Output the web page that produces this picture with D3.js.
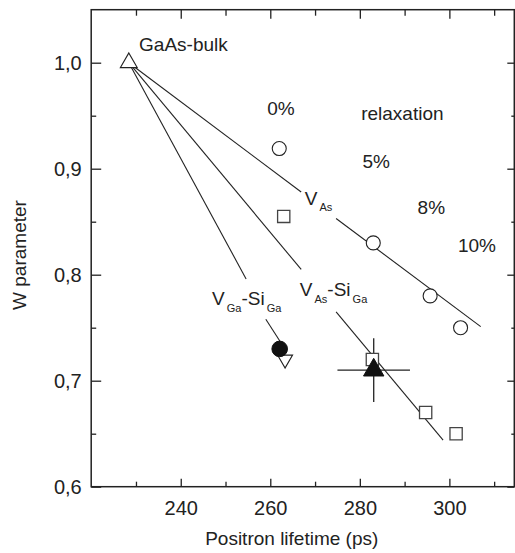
<!DOCTYPE html>
<html>
<head>
<meta charset="utf-8">
<script src="https://cdn.jsdelivr.net/npm/d3@7"></script>
<style>
  html, body { margin: 0; padding: 0; background: #fff; }
  svg { display: block; font-family: "Liberation Sans", Arial, sans-serif; }
</style>
</head>
<body>
<svg id="chart" width="515" height="553"></svg>
<script>
// ---- data ----
const xMajorTicks = [240, 260, 280, 300];
const xMinorTicks = [230, 250, 270, 290, 310];
const yMajorTicks = [0.6, 0.7, 0.8, 0.9, 1.0];
const yMinorTicks = [0.65, 0.75, 0.85, 0.95];
const yTickLabels = ["0,6", "0,7", "0,8", "0,9", "1,0"];

const bulkPoint = [[228.4, 1.0]];
const vAsCircles = [[262.0, 0.919], [283.0, 0.830], [295.7, 0.780], [302.5, 0.750]];
const vAsSiGaSquares = [[263.0, 0.855], [282.8, 0.720], [294.7, 0.670], [301.5, 0.650]];
const vGaSiGaFilledCircle = [[262.1, 0.730]];
const openInvTriangle = [[263.3, 0.720]];
const filledTriangle = [[283.1, 0.710]];
const filledTriangleErr = [[8.1, 0.03]];

// guide lines, each with a gap for its label
const lineVAs = [[[228.4, 1.0], [266.9, 0.878]], [[274.7, 0.853], [307.0, 0.751]]];
const lineVAsSiGa = [[[228.4, 1.0], [266.9, 0.805]], [[274.7, 0.765], [298.6, 0.644]]];
const lineVGaSiGa = [[[228.4, 1.0], [254.6, 0.796]], [[259.0, 0.758], [262.2, 0.737]]];

const plainLabels = [
  ["GaAs-bulk", 230.7, 1.011],
  ["0%", 259.3, 0.9507],
  ["relaxation", 280.3, 0.946],
  ["5%", 280.6, 0.9007],
  ["8%", 292.9, 0.857],
  ["10%", 301.9, 0.8212]
];
// [parts(main/sub alternating), x, y]
const subLabels = [
  [["V", "As"], 267.7, 0.8658],
  [["V", "As", "-Si", "Ga"], 266.6, 0.7799],
  [["V", "Ga", "-Si", "Ga"], 247.0, 0.7714]
];

// ---- layout ----
const svg = d3.select("#chart");
const ink = "#222";
const x = d3.scaleLinear().domain([220, 314.5]).range([91.2, 514.3]);
const y = d3.scaleLinear().domain([0.6, 1.05]).range([486.7, 9.7]);
const [x0, x1] = x.range();
const [y0, y1] = y.range();

// frame
svg.append("rect").attr("x", x0).attr("y", y1).attr("width", x1 - x0).attr("height", y0 - y1)
  .attr("fill", "none").attr("stroke", ink).attr("stroke-width", 1.5);

function styleAxis(g) {
  g.select(".domain").remove();
  g.selectAll("line").attr("stroke", ink).attr("stroke-width", 1.3);
  g.selectAll("text").attr("fill", ink).attr("font-size", 20)
    .attr("font-family", '"Liberation Sans", Arial, sans-serif');
}

// bottom
svg.append("g").attr("transform", `translate(0,${y0})`)
  .call(d3.axisBottom(x).tickValues(xMajorTicks).tickSize(-8).tickPadding(14).tickFormat(d3.format("d")))
  .call(styleAxis);
svg.append("g").attr("transform", `translate(0,${y0})`)
  .call(d3.axisBottom(x).tickValues(xMinorTicks).tickSize(-5).tickFormat(""))
  .call(styleAxis);
// top
svg.append("g").attr("transform", `translate(0,${y1})`)
  .call(d3.axisTop(x).tickValues(xMajorTicks).tickSize(-9).tickFormat(""))
  .call(styleAxis);
svg.append("g").attr("transform", `translate(0,${y1})`)
  .call(d3.axisTop(x).tickValues(xMinorTicks).tickSize(-6).tickFormat(""))
  .call(styleAxis);
// left
svg.append("g").attr("transform", `translate(${x0},0)`)
  .call(d3.axisLeft(y).tickValues(yMajorTicks).tickSize(-10).tickPadding(9.5)
    .tickFormat((d, i) => yTickLabels[i]))
  .call(styleAxis);
svg.append("g").attr("transform", `translate(${x0},0)`)
  .call(d3.axisLeft(y).tickValues(yMinorTicks).tickSize(-5).tickFormat(""))
  .call(styleAxis);
// right
svg.append("g").attr("transform", `translate(${x1},0)`)
  .call(d3.axisRight(y).tickValues(yMajorTicks).tickSize(-7).tickFormat(""))
  .call(styleAxis);
svg.append("g").attr("transform", `translate(${x1},0)`)
  .call(d3.axisRight(y).tickValues(yMinorTicks).tickSize(-3).tickFormat(""))
  .call(styleAxis);

// axis titles
svg.append("text").attr("x", (x0 + x1) / 2 - 11).attr("y", 545)
  .attr("text-anchor", "middle").attr("font-size", 19).attr("fill", ink)
  .text("Positron lifetime (ps)");
svg.append("text").attr("transform", "translate(26,255) rotate(-90)")
  .attr("text-anchor", "middle").attr("font-size", 19).attr("fill", ink)
  .text("W parameter");

// guide lines
const line = d3.line().x(d => x(d[0])).y(d => y(d[1]));
[lineVAs, lineVAsSiGa, lineVGaSiGa].forEach(segs => {
  svg.append("g").selectAll("path").data(segs).join("path")
    .attr("d", line).attr("fill", "none").attr("stroke", ink).attr("stroke-width", 1.1);
});

// error bars
filledTriangle.forEach((p, i) => {
  const [ex, ey] = filledTriangleErr[i];
  svg.append("line").attr("x1", x(p[0] - ex)).attr("x2", x(p[0] + ex))
    .attr("y1", y(p[1])).attr("y2", y(p[1])).attr("stroke", ink).attr("stroke-width", 1.3);
  svg.append("line").attr("x1", x(p[0])).attr("x2", x(p[0]))
    .attr("y1", y(p[1] - ey)).attr("y2", y(p[1] + ey)).attr("stroke", ink).attr("stroke-width", 1.3);
});

// markers
const tri = d3.symbol().type(d3.symbolTriangle);
svg.append("g").selectAll("path").data(bulkPoint).join("path")
  .attr("transform", d => `translate(${x(d[0])},${y(d[1])})`)
  .attr("d", tri.size(122)()).attr("fill", "#fff").attr("stroke", ink).attr("stroke-width", 1.2);

svg.append("g").selectAll("circle").data(vAsCircles).join("circle")
  .attr("cx", d => x(d[0])).attr("cy", d => y(d[1])).attr("r", 7)
  .attr("fill", "#fff").attr("stroke", ink).attr("stroke-width", 1.1);

svg.append("g").selectAll("path").data(vAsSiGaSquares).join("path")
  .attr("transform", d => `translate(${x(d[0])},${y(d[1])})`)
  .attr("d", d3.symbol().type(d3.symbolSquare).size(150)())
  .attr("fill", "#fff").attr("stroke", "#444").attr("stroke-width", 1.3);

svg.append("g").selectAll("path").data(openInvTriangle).join("path")
  .attr("transform", d => `translate(${x(d[0])},${y(d[1])}) rotate(180)`)
  .attr("d", d3.symbol().type(d3.symbolTriangle).size(95)())
  .attr("fill", "#fff").attr("stroke", ink).attr("stroke-width", 1.2);

svg.append("g").selectAll("circle").data(vGaSiGaFilledCircle).join("circle")
  .attr("cx", d => x(d[0])).attr("cy", d => y(d[1])).attr("r", 7.8)
  .attr("fill", "#111").attr("stroke", "#111");

svg.append("g").selectAll("path").data(filledTriangle).join("path")
  .attr("transform", d => `translate(${x(d[0])},${y(d[1])})`)
  .attr("d", d3.symbol().type(d3.symbolTriangle).size(180)())
  .attr("fill", "#111").attr("stroke", "#111");

// labels
svg.append("g").selectAll("text").data(plainLabels).join("text")
  .attr("x", d => x(d[1])).attr("y", d => y(d[2]))
  .attr("font-size", 19).attr("fill", ink).text(d => d[0]);

subLabels.forEach(([parts, lx, ly]) => {
  const t = svg.append("text").attr("x", x(lx)).attr("y", y(ly)).attr("fill", ink);
  parts.forEach((s, i) => {
    const isSub = i % 2 === 1;
    t.append("tspan")
      .attr("font-size", isSub ? 11 : 19)
      .attr("dx", isSub ? 2 : 0)
      .attr("dy", i === 0 ? 0 : (isSub ? 6.5 : -6.5))
      .text(s);
  });
});
</script>
</body>
</html>
